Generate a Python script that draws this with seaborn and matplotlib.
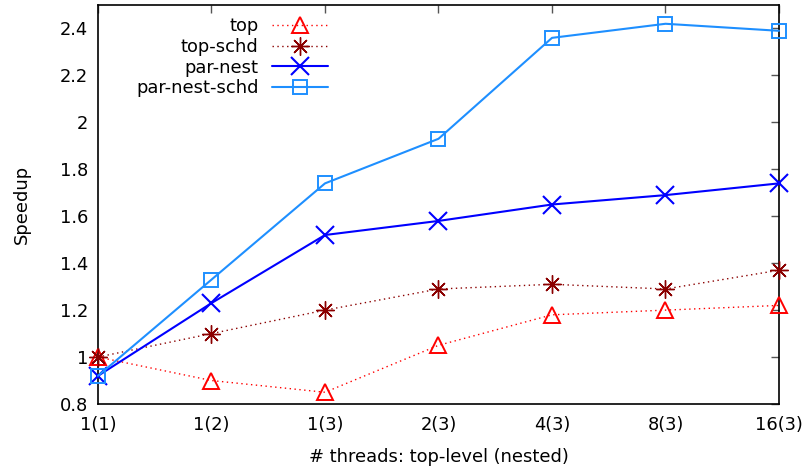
import numpy as np
import pandas as pd
import matplotlib
matplotlib.use("Agg")
import matplotlib.pyplot as plt
import seaborn as sns

# Thread configurations: top-level (nested)
configs = ["1(1)", "1(2)", "1(3)", "2(3)", "4(3)", "8(3)", "16(3)"]

top = [1.00, 0.90, 0.85, 1.05, 1.18, 1.20, 1.22]
top_schd = [1.00, 1.10, 1.20, 1.29, 1.31, 1.29, 1.37]
par_nest = [0.92, 1.23, 1.52, 1.58, 1.65, 1.69, 1.74]
par_nest_schd = [0.92, 1.33, 1.74, 1.93, 2.36, 2.42, 2.39]

series_names = ["top", "top-schd", "par-nest", "par-nest-schd"]
series_values = [top, top_schd, par_nest, par_nest_schd]

y_ticks = [0.8, 1.0, 1.2, 1.4, 1.6, 1.8, 2.0, 2.2, 2.4]
y_tick_labels = ["0.8", "1", "1.2", "1.4", "1.6", "1.8", "2", "2.2", "2.4"]

rows = []
for name, vals in zip(series_names, series_values):
    for i, (c, v) in enumerate(zip(configs, vals)):
        rows.append({"pos": i, "config": c, "series": name, "speedup": v})
df = pd.DataFrame(rows)

sns.set_theme(style="white")
plt.rcParams["font.family"] = ["DejaVu Sans"]
plt.rcParams["text.color"] = "black"
plt.rcParams["axes.labelcolor"] = "black"

FS = 12.9

styles = {
    "top": dict(color="#ff0000", marker="^", ls=(0, (1, 2.5)), lw=1.0, ms=11,
                mfc="none", mew=1.4),
    "top-schd": dict(color="#8b0000", marker=(8, 2, 0), ls=(0, (1, 2.5)), lw=1.0,
                     ms=13, mew=1.0),
    "par-nest": dict(color="#0000ff", marker="x", ls="-", lw=1.5, ms=12.5, mew=1.5),
    "par-nest-schd": dict(color="#1e8fff", marker="s", ls="-", lw=1.5, ms=10.5,
                          mfc="none", mew=1.4),
}

fig = plt.figure(figsize=(8.04, 4.72), dpi=100)
ax = fig.add_axes([98 / 804, 68 / 472, 681 / 804, 399 / 472])

for name in series_names:
    st = styles[name]
    sub = df[df["series"] == name]
    sns.lineplot(data=sub, x="pos", y="speedup", ax=ax, label=name,
                 color=st["color"], marker=st["marker"], linestyle=st["ls"],
                 linewidth=st["lw"], markersize=st["ms"],
                 markerfacecolor=st.get("mfc", st["color"]),
                 markeredgecolor=st["color"], markeredgewidth=st["mew"],
                 errorbar=None, sort=False, clip_on=False, zorder=3)

ax.set_xlim(0, len(configs) - 1)
ax.set_ylim(0.8, 2.5)
ax.set_xticks(range(len(configs)))
ax.set_xticklabels(configs)
ax.set_yticks(y_ticks)
ax.set_yticklabels(y_tick_labels)
ax.tick_params(axis="both", which="both", direction="in", length=5.5, width=1.0,
               color="#555555", top=True, right=True, labelsize=FS,
               labelcolor="black")
ax.tick_params(axis="x", pad=9)
ax.tick_params(axis="y", pad=7)
for sp in ax.spines.values():
    sp.set_visible(True)
    sp.set_color("black")
    sp.set_linewidth(1.2)
ax.set_xlabel("# threads: top-level (nested)", fontsize=FS, labelpad=10)
ax.set_ylabel("Speedup", fontsize=FS, labelpad=21)

leg = ax.legend(loc="upper left", bbox_to_anchor=(0.035, 1.005), frameon=False,
                markerfirst=False, fontsize=FS, handlelength=3.1,
                handletextpad=0.75, labelspacing=0.15, borderpad=0.3)
for col in leg._legend_box._children[-1]._children:
    col.align = "right"

fig.savefig("out.png", dpi=100)
